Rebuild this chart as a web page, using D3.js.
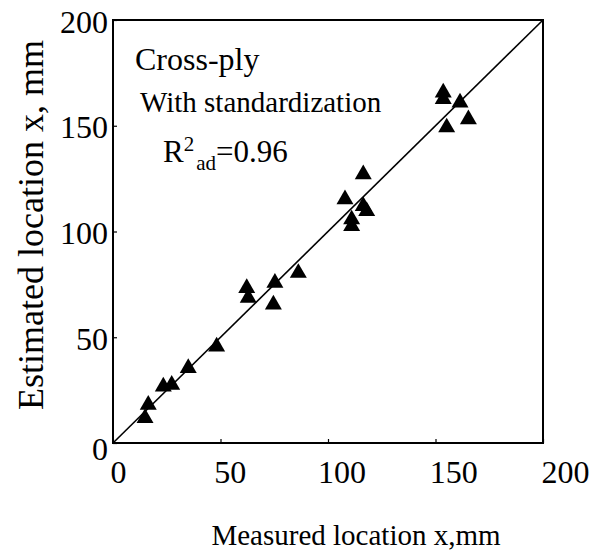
<!DOCTYPE html>
<html>
<head>
<meta charset="utf-8">
<title>Cross-ply</title>
<script src="https://d3js.org/d3.v7.min.js"></script>
<style>
  body { margin: 0; background: #fff; }
  svg text { font-family: "Liberation Serif", "DejaVu Serif", serif; fill: #000; }
</style>
</head>
<body>
<svg width="592" height="553"></svg>
<script>
// measured vs estimated location (mm)
const measured  = [14.9, 16.4, 23.4, 27.3, 35.0, 48.2, 62.2, 62.9, 75.3, 74.6, 86.2,
                   107.9, 116.4, 116.4, 118.0, 111.0, 111.0, 153.6, 153.6, 161.4, 165.3, 155.2];
const estimated = [11.8, 18.0, 26.7, 27.5, 35.4, 45.6, 73.3, 68.6, 75.7, 65.4, 80.4,
                   115.2, 127.0, 112.0, 109.6, 105.7, 102.5, 165.7, 162.6, 161.0, 153.0, 149.2];
const ticks = [0, 50, 100, 150, 200];

const svg = d3.select("svg");
const pLeft = 113, pRight = 543, pTop = 20, pBottom = 443;
const serif = "'Liberation Serif', 'DejaVu Serif', serif";

const x = d3.scaleLinear().domain([0, 200]).range([pLeft, pRight]);
const y = d3.scaleLinear().domain([0, 200]).range([pBottom, pTop]);
// tick labels in the original sit a bit to the right of the marks
const xLab = d3.scaleLinear().domain([0, 200]).range([118, 565]);

// tick marks (inside)
svg.append("g")
    .attr("transform", `translate(0,${pBottom})`)
    .call(d3.axisBottom(x).tickValues(ticks).tickSize(-4).tickFormat(""))
    .call(g => g.select(".domain").remove())
    .selectAll("line").attr("stroke-width", 1.2);
svg.append("g")
    .attr("transform", `translate(${pLeft},0)`)
    .call(d3.axisLeft(y).tickValues(ticks).tickSize(-4).tickFormat(""))
    .call(g => g.select(".domain").remove())
    .selectAll("line").attr("stroke-width", 1.2);

// tick labels
svg.append("g")
    .attr("transform", `translate(0,${pBottom})`)
    .attr("font-family", serif)
    .call(d3.axisBottom(xLab).tickValues(ticks).tickSize(0).tickPadding(0))
    .call(g => g.select(".domain").remove())
    .selectAll("text")
    .attr("y", 40)
    .attr("dy", 0)
    .style("font-size", "32px");

svg.append("g")
    .attr("transform", `translate(${pLeft - 5},0)`)
    .attr("font-family", serif)
    .call(d3.axisLeft(y).tickValues(ticks).tickSize(0).tickPadding(0))
    .call(g => g.select(".domain").remove())
    .selectAll("text")
    .attr("dy", d => d === 0 ? "0.52em" : "0.38em")
    .style("font-size", "32px");

// frame
svg.append("rect")
    .attr("x", pLeft).attr("y", pTop)
    .attr("width", pRight - pLeft).attr("height", pBottom - pTop)
    .attr("fill", "none").attr("stroke", "#000").attr("stroke-width", 2);

// 1:1 line
svg.append("line")
    .attr("x1", x(0)).attr("y1", y(0))
    .attr("x2", x(200)).attr("y2", y(200))
    .attr("stroke", "#000").attr("stroke-width", 1.6);

// points
const tri = d3.symbol().type(d3.symbolTriangle).size(125);
svg.append("g").selectAll("path")
    .data(measured.map((m, i) => [m, estimated[i]]))
    .join("path")
    .attr("d", tri)
    .attr("transform", d => `translate(${x(d[0])},${y(d[1])})`)
    .attr("fill", "#000");

// annotations
svg.append("text").attr("x", 135).attr("y", 70)
    .style("font-size", "32px").text("Cross-ply");
svg.append("text").attr("x", 140).attr("y", 112)
    .style("font-size", "29px").text("With standardization");
const r2 = svg.append("text").attr("x", 163).attr("y", 162).style("font-size", "31px");
r2.append("tspan").text("R");
r2.append("tspan").attr("dy", -11).style("font-size", "21px").text("2");
r2.append("tspan").attr("dx", 2).attr("dy", 19).style("font-size", "21px").text("ad");
r2.append("tspan").attr("dy", -8).text("=0.96");

// axis titles
svg.append("text")
    .attr("x", 356).attr("y", 545)
    .attr("text-anchor", "middle")
    .style("font-size", "29px")
    .text("Measured location x,mm");
svg.append("text")
    .attr("transform", "translate(43,225) rotate(-90)")
    .attr("text-anchor", "middle")
    .style("font-size", "36px")
    .text("Estimated location x, mm");
</script>
</body>
</html>
